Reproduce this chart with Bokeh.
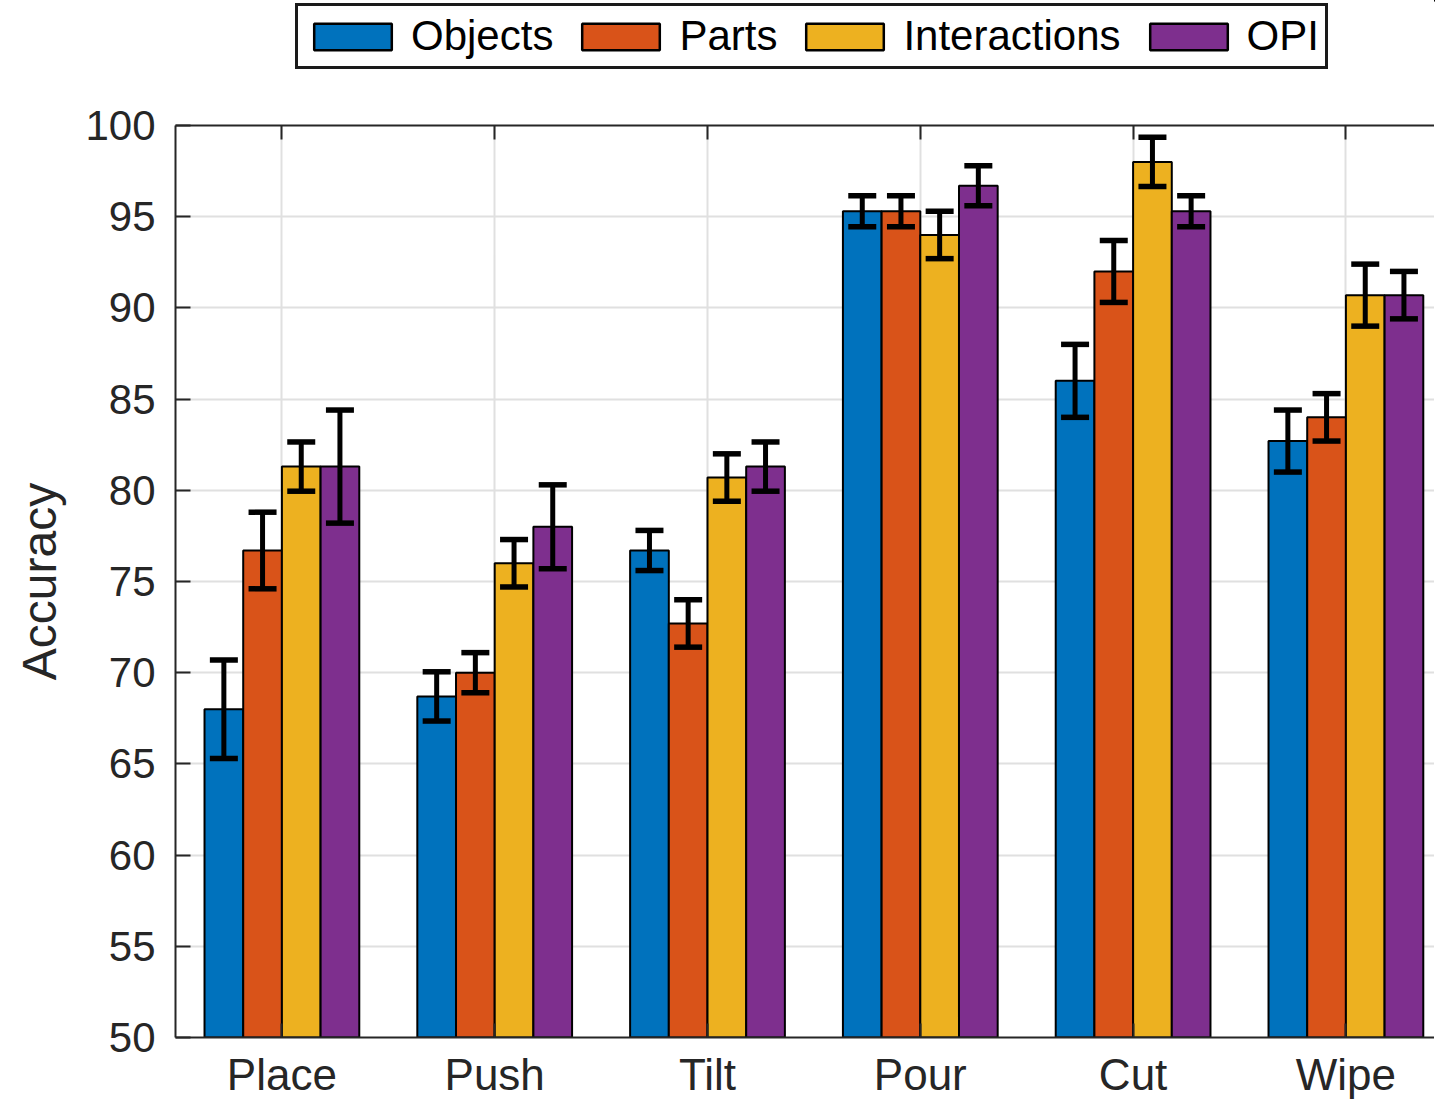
from bokeh.plotting import figure
from bokeh.layouts import column
from bokeh.models import (ColumnDataSource, Range1d, FixedTicker, LinearAxis,
                          Legend, LegendItem, Whisker, TeeHead)
from bokeh.embed import file_html
from bokeh.resources import INLINE

categories = ["Place", "Push", "Tilt", "Pour", "Cut", "Wipe"]
series = ["Objects", "Parts", "Interactions", "OPI"]

objects = [68.0, 68.7, 76.7, 95.3, 86.0, 82.7]
objects_err = [2.7, 1.35, 1.1, 0.85, 2.0, 1.7]
parts = [76.7, 70.0, 72.7, 95.3, 92.0, 84.0]
parts_err = [2.1, 1.1, 1.3, 0.85, 1.7, 1.3]
interactions = [81.3, 76.0, 80.7, 94.0, 98.0, 90.7]
interactions_err = [1.35, 1.3, 1.3, 1.3, 1.35, 1.7]
opi = [81.3, 78.0, 81.3, 96.7, 95.3, 90.7]
opi_err = [3.1, 2.3, 1.35, 1.1, 0.85, 1.3]

y_ticks = [50, 55, 60, 65, 70, 75, 80, 85, 90, 95, 100]

values = [objects, parts, interactions, opi]
errors = [objects_err, parts_err, interactions_err, opi_err]
colors = ["#0072BD", "#D95319", "#EDB120", "#7E2F8E"]

FONT = "Liberation Sans"
TXT = "#262626"
GRID = "#e0e0e0"

n = len(series)
group_w = n / (n + 1.5)
bar_w = group_w / n
offsets = [(-group_w / 2 + bar_w * (k + 0.5)) for k in range(n)]
cat_pos = list(range(1, len(categories) + 1))

LEG_H = 80
frame_w = 1259
p = figure(frame_width=frame_w, frame_height=912,
           x_range=Range1d(0.5, 0.5 + frame_w / 212.8), y_range=Range1d(50, 100),
           output_backend="svg", toolbar_location=None,
           min_border_left=175, min_border_top=125 - LEG_H, min_border_right=0,
           min_border_bottom=0)
p.outline_line_color = None
p.background_fill_color = "white"
p.border_fill_color = "white"

cat_ticker = FixedTicker(ticks=cat_pos)
overrides = {i: c for i, c in zip(cat_pos, categories)}

# bottom axis
xa = p.xaxis[0]
xa.ticker = cat_ticker
xa.major_label_overrides = overrides
xa.major_tick_in = 14
xa.major_tick_out = 0
xa.minor_tick_in = 0
xa.minor_tick_out = 0
xa.axis_line_color = TXT
xa.axis_line_width = 2
xa.major_tick_line_color = TXT
xa.major_tick_line_width = 2
xa.major_label_text_font = FONT
xa.major_label_text_font_size = "44px"
xa.major_label_text_color = TXT
xa.major_label_standoff = 12

# top axis (box line)
ta = LinearAxis(ticker=cat_ticker, major_label_text_font_size="0px",
                major_tick_in=14, major_tick_out=0, minor_tick_in=0, minor_tick_out=0,
                axis_line_color=TXT, axis_line_width=2,
                major_tick_line_color=TXT, major_tick_line_width=2)
ta.major_label_overrides = {i: "" for i in cat_pos}
p.add_layout(ta, "above")

ya = p.yaxis[0]
ya.ticker = FixedTicker(ticks=y_ticks)
ya.major_tick_in = 15
ya.major_tick_out = 0
ya.minor_tick_in = 0
ya.minor_tick_out = 0
ya.axis_line_color = TXT
ya.axis_line_width = 2
ya.major_tick_line_color = TXT
ya.major_tick_line_width = 2
ya.major_label_text_font = FONT
ya.major_label_text_font_size = "42px"
ya.major_label_text_color = TXT
ya.major_label_standoff = 20
ya.axis_label = "Accuracy"
ya.axis_label_text_font = FONT
ya.axis_label_text_font_size = "48px"
ya.axis_label_text_font_style = "normal"
ya.axis_label_text_color = TXT
ya.axis_label_standoff = 16

p.xgrid.ticker = cat_ticker
p.ygrid.ticker = FixedTicker(ticks=y_ticks)
for g in (p.xgrid[0], p.ygrid[0]):
    g.grid_line_color = GRID
    g.grid_line_width = 2

sources = []
for k in range(n):
    xs = [c + offsets[k] for c in cat_pos]
    src = ColumnDataSource(dict(
        x=xs, top=values[k],
        upper=[v + e for v, e in zip(values[k], errors[k])],
        lower=[v - e for v, e in zip(values[k], errors[k])]))
    sources.append(src)
    p.vbar(x="x", top="top", bottom=0, width=bar_w, source=src,
           fill_color=colors[k], line_color="black", line_width=2)
    w = Whisker(base="x", upper="upper", lower="lower", source=src,
                line_color="black", line_width=5, level="annotation",
                upper_head=TeeHead(size=28, line_width=5.5, line_color="black"),
                lower_head=TeeHead(size=28, line_width=5.5, line_color="black"))
    p.add_layout(w)

# legend strip above the axes (its bars lie outside its own ranges; only the legend shows)
lf = figure(width=1435, height=LEG_H, x_range=Range1d(-3, -2), y_range=Range1d(-3, -2),
            output_backend="svg", toolbar_location=None,
            x_axis_location=None, y_axis_location=None, min_border=0)
lf.outline_line_color = None
lf.xgrid.visible = False
lf.ygrid.visible = False
items = []
for k in range(n):
    r = lf.vbar(x="x", top="top", bottom=0, width=bar_w, source=sources[k],
                fill_color=colors[k], line_color="black", line_width=2.5)
    items.append(LegendItem(label=series[k], renderers=[r], index=0))
legend = Legend(items=items, orientation="horizontal", location=(120, LEG_H - 69),
                glyph_width=97, glyph_height=33, label_standoff=10, spacing=19,
                padding=6, margin=0,
                label_text_font=FONT, label_text_font_size="42px",
                label_text_color="black",
                border_line_color="#1a1a1a", border_line_width=3,
                border_line_alpha=1.0,
                background_fill_color="white", background_fill_alpha=1.0)
lf.add_layout(legend)

open("out.html", "w").write(file_html(column(lf, p, spacing=0), INLINE))
